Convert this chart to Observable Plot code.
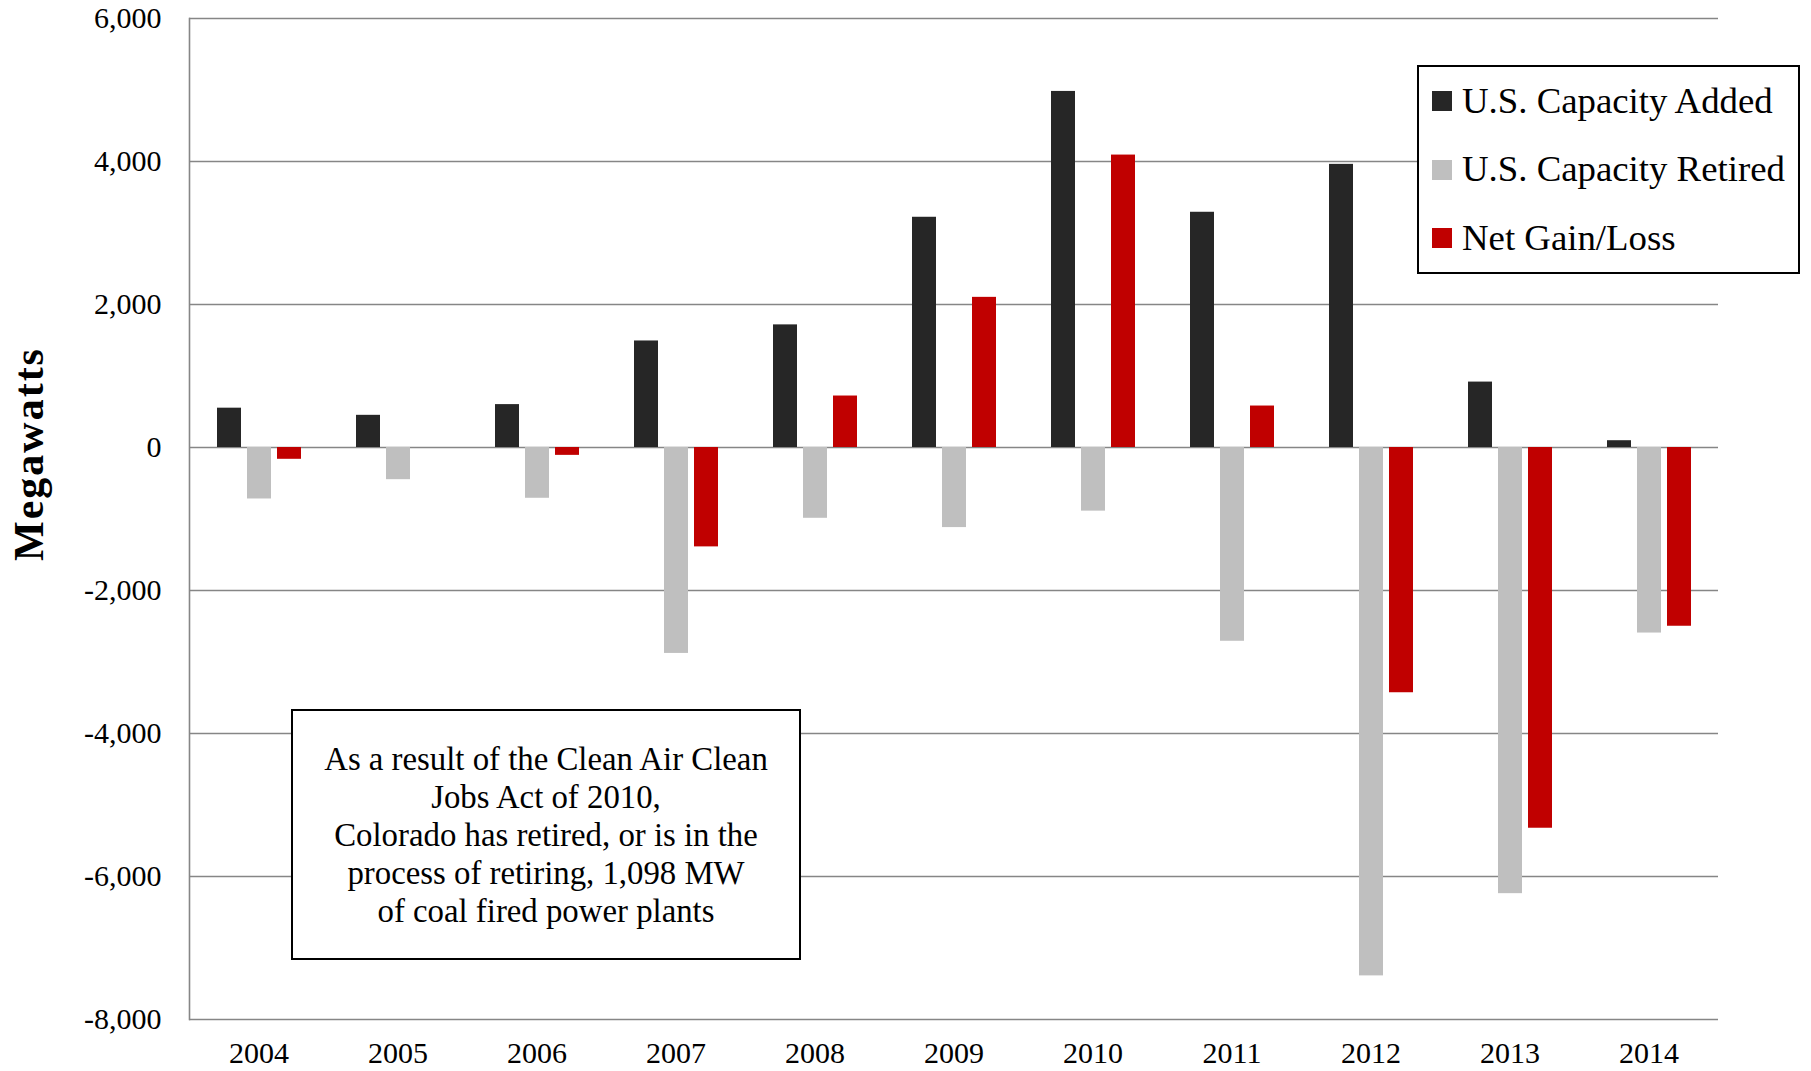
<!DOCTYPE html>
<html>
<head>
<meta charset="utf-8">
<script src="https://cdn.jsdelivr.net/npm/d3@7"></script>
<script src="https://cdn.jsdelivr.net/npm/@observablehq/plot@0.6"></script>
<style>
  html, body { margin: 0; padding: 0; background: #fff; }
  #wrap { position: relative; width: 1811px; height: 1071px; font-family: "Liberation Serif", serif; color: #000; }
  #wrap svg { position: absolute; left: 0; top: 0; }
  .ylabel { position: absolute; left: 29px; top: 454px; transform: translate(-50%, -50%) rotate(-90deg);
            white-space: nowrap; font-weight: bold; font-size: 42px; letter-spacing: 2px; line-height: 1; }
  .legend { position: absolute; left: 1417px; top: 65px; width: 379px; height: 205px; border: 2px solid #000;
            background: #fff; box-sizing: content-box; }
  .legend .row { display: flex; align-items: center; height: 68.5px; padding-left: 13px; }
  .legend .sw { width: 20px; height: 20px; margin-right: 10px; flex: none; }
  .legend .lab { font-size: 36.8px; line-height: 1; white-space: nowrap; }
  .note { position: absolute; left: 291px; top: 709px; width: 506px; height: 247px; border: 2px solid #000;
          background: #fff; display: flex; align-items: center; justify-content: center; text-align: center;
          font-size: 32.8px; line-height: 38px; }
</style>
</head>
<body>
<div id="wrap"></div>
<script>
const years = ["2004","2005","2006","2007","2008","2009","2010","2011","2012","2013","2014"];
const seriesNames = ["U.S. Capacity Added", "U.S. Capacity Retired", "Net Gain/Loss"];
const seriesColors = ["#262626", "#bfbfbf", "#c00000"];
const added   = [550, 450, 600, 1490, 1715, 3220, 4980, 3290, 3960, 915, 95];
const retired = [-720, -450, -710, -2880, -990, -1120, -890, -2710, -7390, -6240, -2595];
const net     = [-165, 0, -110, -1390, 720, 2100, 4090, 580, -3430, -5325, -2500];
const yTicks  = [-8000, -6000, -4000, -2000, 0, 2000, 4000, 6000];
const yLabel  = "Megawatts";
const noteLines = ["As a result of the Clean Air Clean", "Jobs Act of 2010,", "Colorado has retired, or is in the", "process of retiring, 1,098 MW", "of coal fired power plants"];

const seriesValues = [added, retired, net];
const data = [];
years.forEach((yr, i) => {
  seriesNames.forEach((s, j) => data.push({year: yr, series: s, value: seriesValues[j][i]}));
});

const fmt = d => d3.format(",")(d).replace("\u2212", "-");

const chart = Plot.plot({
  width: 1811,
  height: 1071,
  marginLeft: 187,
  marginRight: 91,
  marginTop: 18,
  marginBottom: 52,
  style: {fontFamily: "Liberation Serif", background: "#fff", color: "#000"},
  fx: {domain: years, padding: 0},
  x: {domain: seriesNames, axis: null, paddingInner: 0.21, paddingOuter: 0.855},
  y: {domain: [-8000, 6000]},
  color: {domain: seriesNames, range: seriesColors},
  marks: [
    Plot.ruleY(yTicks, {stroke: "#868686", strokeWidth: 1.6, strokeOpacity: 1}),
    Plot.frame({anchor: "left", facetAnchor: "left", stroke: "#868686", strokeWidth: 1.6, strokeOpacity: 1}),
    Plot.barY(data, {fx: "year", x: "series", y: "value", fill: "series"}),
    Plot.axisY({ticks: yTicks, tickSize: 0, tickPadding: 28, tickFormat: fmt, fontSize: 30, label: null, fill: "#000"}),
    Plot.axisFx({anchor: "bottom", tickSize: 0, tickPadding: 22, fontSize: 30, label: null, fill: "#000"})
  ]
});

const wrap = document.getElementById("wrap");
wrap.appendChild(chart);

const yl = document.createElement("div");
yl.className = "ylabel";
yl.textContent = yLabel;
wrap.appendChild(yl);

const legend = document.createElement("div");
legend.className = "legend";
seriesNames.forEach((s, j) => {
  const row = document.createElement("div");
  row.className = "row";
  const sw = document.createElement("span");
  sw.className = "sw";
  sw.style.background = seriesColors[j];
  const lab = document.createElement("span");
  lab.className = "lab";
  lab.textContent = s;
  row.appendChild(sw);
  row.appendChild(lab);
  legend.appendChild(row);
});
wrap.appendChild(legend);

const note = document.createElement("div");
note.className = "note";
const inner = document.createElement("div");
noteLines.forEach((t, i) => {
  if (i) inner.appendChild(document.createElement("br"));
  inner.appendChild(document.createTextNode(t));
});
note.appendChild(inner);
wrap.appendChild(note);
</script>
</body>
</html>
